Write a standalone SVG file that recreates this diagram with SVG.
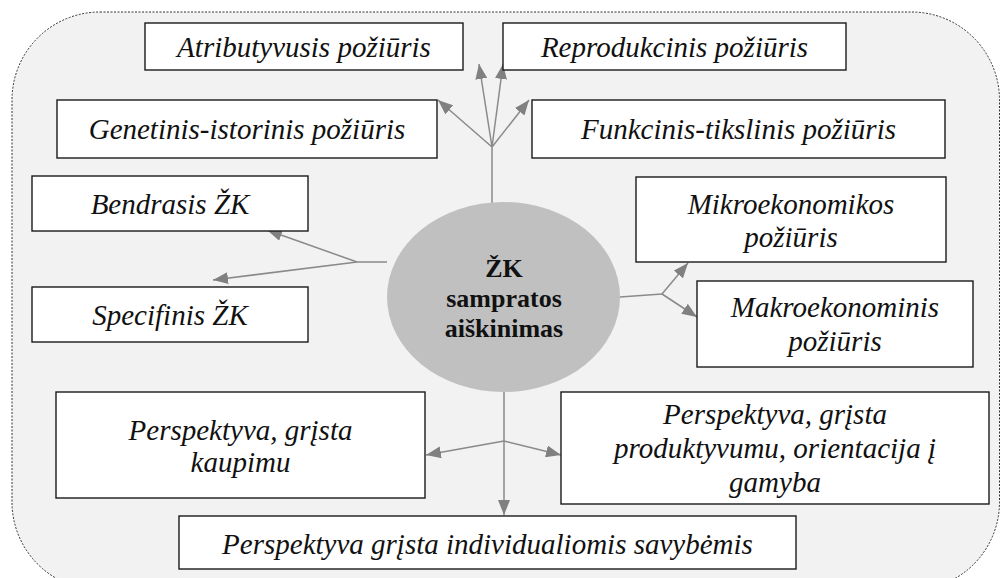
<svg xmlns="http://www.w3.org/2000/svg" width="1001" height="578" viewBox="0 0 1001 578">
  <defs>
    <marker id="arrow" markerUnits="userSpaceOnUse" markerWidth="15" markerHeight="12" viewBox="0 0 15 12" refX="15" refY="6" orient="auto">
      <path d="M0,0 L15,6 L0,12 z" fill="#808080"/>
    </marker>
  </defs>
  <style>
    .frame { fill: #f2f2f2; stroke: #333333; stroke-width: 1; stroke-dasharray: 2 1.5; }
    .box { fill: #ffffff; stroke: #1a1a1a; stroke-width: 1.4; }
    .lbl { font-family: 'Liberation Serif', serif; font-style: italic; font-size: 29px; fill: #111111; text-anchor: middle; }
    .core { fill: #c0c0c0; stroke: none; }
    .coretxt { font-family: 'Liberation Serif', serif; font-weight: bold; font-size: 26px; fill: #111111; text-anchor: middle; }
    .link { fill: none; stroke: #8a8a8a; stroke-width: 1.5; }
    .arr { marker-end: url(#arrow); }
  </style>

  <!-- outer dashed frame -->
  <rect class="frame" x="12" y="12" width="987.5" height="578" rx="88" ry="88"/>

  <!-- connectors -->
  <g id="connectors">
    <!-- top fan -->
    <path class="link" d="M492,203 L492,147"/>
    <path class="link arr" d="M492,147 L438,100"/>
    <path class="link arr" d="M492,147 L479,64"/>
    <path class="link arr" d="M492,147 L503,64"/>
    <path class="link arr" d="M492,147 L529,100"/>
    <!-- left fork -->
    <path class="link" d="M387,262 L357,262"/>
    <path class="link arr" d="M357,262 L267,230"/>
    <path class="link arr" d="M357,262 L213,280"/>
    <!-- right fork -->
    <path class="link" d="M620,297 L662,294"/>
    <path class="link arr" d="M662,294 L688,263"/>
    <path class="link arr" d="M662,294 L697,317"/>
    <!-- bottom fork -->
    <path class="link arr" d="M504,392 L504,515"/>
    <path class="link arr" d="M504,441 L426,455"/>
    <path class="link arr" d="M504,441 L561,455"/>
  </g>

  <!-- central node -->
  <g id="core">
    <ellipse class="core" cx="503.5" cy="297" rx="116.5" ry="95"/>
    <text class="coretxt" x="504" y="277" font-family="Liberation Serif, serif">ŽK</text>
    <text class="coretxt" x="504" y="307" font-family="Liberation Serif, serif">sampratos</text>
    <text class="coretxt" x="504" y="337" font-family="Liberation Serif, serif">aiškinimas</text>
  </g>

  <g id="atributyvusis">
    <rect class="box" x="145" y="23" width="318" height="47"/>
    <text class="lbl" x="304" y="57">Atributyvusis požiūris</text>
  </g>

  <g id="reprodukcinis">
    <rect class="box" x="503" y="23" width="343" height="47"/>
    <text class="lbl" x="674.5" y="57">Reprodukcinis požiūris</text>
  </g>

  <g id="genetinis">
    <rect class="box" x="57" y="100" width="380" height="58"/>
    <text class="lbl" x="247" y="139">Genetinis-istorinis požiūris</text>
  </g>

  <g id="funkcinis">
    <rect class="box" x="532" y="100" width="413" height="58"/>
    <text class="lbl" x="738.5" y="139">Funkcinis-tikslinis požiūris</text>
  </g>

  <g id="bendrasis">
    <rect class="box" x="32" y="176" width="276" height="55"/>
    <text class="lbl" x="170" y="214">Bendrasis ŽK</text>
  </g>

  <g id="specifinis">
    <rect class="box" x="32" y="287" width="276" height="55"/>
    <text class="lbl" x="170" y="325">Specifinis ŽK</text>
  </g>

  <g id="mikro">
    <rect class="box" x="636" y="177" width="310" height="85"/>
    <text class="lbl" x="791" y="214">Mikroekonomikos</text>
    <text class="lbl" x="791" y="247">požiūris</text>
  </g>

  <g id="makro">
    <rect class="box" x="697" y="281" width="276" height="86"/>
    <text class="lbl" x="835" y="317">Makroekonominis</text>
    <text class="lbl" x="835" y="351">požiūris</text>
  </g>

  <g id="kaupimu">
    <rect class="box" x="56" y="392" width="369" height="106"/>
    <text class="lbl" x="240.5" y="440">Perspektyva, grįsta</text>
    <text class="lbl" x="240.5" y="472">kaupimu</text>
  </g>

  <g id="produktyvumu">
    <rect class="box" x="561" y="392" width="428" height="112"/>
    <text class="lbl" x="775" y="424">Perspektyva, grįsta</text>
    <text class="lbl" x="775" y="458">produktyvumu, orientacija į</text>
    <text class="lbl" x="775" y="492">gamyba</text>
  </g>

  <g id="individualiomis">
    <rect class="box" x="179" y="516" width="617" height="53"/>
    <text class="lbl" x="487.5" y="554">Perspektyva grįsta individualiomis savybėmis</text>
  </g>
</svg>
